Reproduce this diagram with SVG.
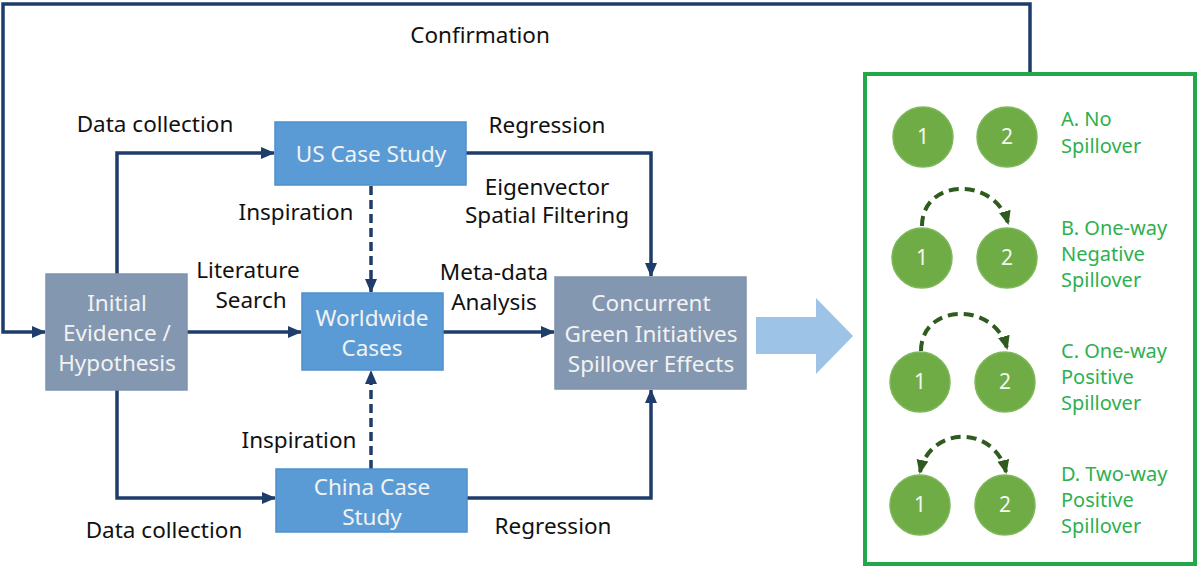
<svg xmlns="http://www.w3.org/2000/svg" width="1200" height="568" viewBox="0 0 1200 568">
<style>
text{font-family:"Noto Sans","Open Sans","DejaVu Sans",sans-serif;}
.lbl{font-size:22.5px;fill:#111;}
.nt{font-size:22.5px;fill:#F2F2F2;text-anchor:middle;}
.grey{fill:#8497B0;stroke:#7F93AE;stroke-width:1.5;}
.blue{fill:#5B9BD5;stroke:#4F8FCC;stroke-width:1.5;}
.con{fill:none;stroke:#1F3D6B;stroke-width:3.5;}
.dash{stroke-dasharray:9 5;}
.circ{fill:#6FAC46;stroke:#7DB85A;stroke-width:1.5;}
.cn{font-size:21px;fill:#F4F9F0;text-anchor:middle;}
.gl{font-size:20px;fill:#2EB050;}
.arc{fill:none;stroke:#2F5B1E;stroke-width:4;stroke-dasharray:10 6;}
</style>
<defs>
<marker id="ah" markerUnits="userSpaceOnUse" markerWidth="14" markerHeight="14" viewBox="0 0 14 14" refX="13" refY="7" orient="auto">
<path d="M0,1 L14,7 L0,13 z" fill="#1F3D6B"/>
</marker>
<marker id="gh" markerUnits="userSpaceOnUse" markerWidth="14" markerHeight="14" viewBox="0 0 14 14" refX="12" refY="7" orient="auto-start-reverse">
<path d="M0,1 L14,7 L0,13 z" fill="#2F5B1E"/>
</marker>
</defs>

<g id="connectors">
<polyline class="con" points="1030,73 1030,4 3,4 3,332 45,332" marker-end="url(#ah)"/>
<polyline class="con" points="117,274 117,153 274,153" marker-end="url(#ah)"/>
<polyline class="con" points="117,390 117,498 275,498" marker-end="url(#ah)"/>
<line class="con" x1="187" y1="332" x2="301" y2="332" marker-end="url(#ah)"/>
<line class="con" x1="443" y1="332" x2="554" y2="332" marker-end="url(#ah)"/>
<line class="con dash" x1="371" y1="186" x2="371" y2="292" marker-end="url(#ah)"/>
<line class="con dash" x1="371" y1="469" x2="371" y2="371" marker-end="url(#ah)"/>
<polyline class="con" points="466,153 651,153 651,276" marker-end="url(#ah)"/>
<polyline class="con" points="467,498 651,498 651,390" marker-end="url(#ah)"/>
<text class="lbl" x="480" y="43" text-anchor="middle">Confirmation</text>
<text class="lbl" x="155" y="132" text-anchor="middle">Data collection</text>
<text class="lbl" x="547" y="133" text-anchor="middle">Regression</text>
<text class="lbl" x="547" y="195" text-anchor="middle">Eigenvector</text>
<text class="lbl" x="547" y="223" text-anchor="middle">Spatial Filtering</text>
<text class="lbl" x="296" y="220" text-anchor="middle">Inspiration</text>
<text class="lbl" x="248" y="278" text-anchor="middle">Literature</text>
<text class="lbl" x="251" y="308" text-anchor="middle">Search</text>
<text class="lbl" x="494" y="280" text-anchor="middle">Meta-data</text>
<text class="lbl" x="494" y="310" text-anchor="middle">Analysis</text>
<text class="lbl" x="299" y="448" text-anchor="middle">Inspiration</text>
<text class="lbl" x="164" y="538" text-anchor="middle">Data collection</text>
<text class="lbl" x="553" y="534" text-anchor="middle">Regression</text>
</g>

<g id="initial">
<rect class="grey" x="46" y="274" width="141" height="116"/>
<text class="nt" x="117" y="311">Initial</text>
<text class="nt" x="117" y="341">Evidence /</text>
<text class="nt" x="117" y="371">Hypothesis</text>
</g>
<g id="us">
<rect class="blue" x="275" y="122" width="191" height="63"/>
<text class="nt" x="371" y="162">US Case Study</text>
</g>
<g id="worldwide">
<rect class="blue" x="302" y="293" width="141" height="77"/>
<text class="nt" x="372" y="326">Worldwide</text>
<text class="nt" x="372" y="356">Cases</text>
</g>
<g id="china">
<rect class="blue" x="276" y="469" width="191" height="63"/>
<text class="nt" x="372" y="495">China Case</text>
<text class="nt" x="372" y="525">Study</text>
</g>
<g id="concurrent">
<rect class="grey" x="555" y="277" width="191" height="112"/>
<text class="nt" x="651" y="311">Concurrent</text>
<text class="nt" x="651" y="342">Green Initiatives</text>
<text class="nt" x="651" y="372">Spillover Effects</text>
</g>
<g id="big-arrow">
<polygon points="756,317 816,317 816,298 853,336 816,374 816,354 756,354" fill="#9DC3E6"/>
</g>

<g id="panel">
<rect x="865" y="74" width="330" height="490" fill="#fff" stroke="#22A84A" stroke-width="4"/>
<g id="row-a">
<circle class="circ" cx="923" cy="137" r="30"/>
<circle class="circ" cx="1007" cy="137" r="30"/>
<text class="cn" x="923" y="144">1</text>
<text class="cn" x="1007" y="144">2</text>
<text class="gl" x="1061" y="126">A. No</text>
<text class="gl" x="1061" y="153">Spillover</text>
</g>
<g id="row-b">
<circle class="circ" cx="922" cy="258" r="30"/>
<circle class="circ" cx="1007" cy="258" r="30"/>
<text class="cn" x="922" y="265">1</text>
<text class="cn" x="1007" y="265">2</text>
<path class="arc" d="M922,226 C922,178 995,176 1008,223" marker-end="url(#gh)"/>
<text class="gl" x="1061" y="235">B. One-way</text>
<text class="gl" x="1061" y="261">Negative</text>
<text class="gl" x="1061" y="287">Spillover</text>
</g>
<g id="row-c">
<circle class="circ" cx="920" cy="382" r="30"/>
<circle class="circ" cx="1005" cy="382" r="30"/>
<text class="cn" x="920" y="389">1</text>
<text class="cn" x="1005" y="389">2</text>
<path class="arc" d="M921,351 C921,303 994,301 1007,348" marker-end="url(#gh)"/>
<text class="gl" x="1061" y="358">C. One-way</text>
<text class="gl" x="1061" y="384">Positive</text>
<text class="gl" x="1061" y="410">Spillover</text>
</g>
<g id="row-d">
<circle class="circ" cx="920" cy="505" r="30"/>
<circle class="circ" cx="1005" cy="505" r="30"/>
<text class="cn" x="920" y="512">1</text>
<text class="cn" x="1005" y="512">2</text>
<path class="arc" d="M920,472 C930,425 995,425 1006,472" marker-start="url(#gh)" marker-end="url(#gh)"/>
<text class="gl" x="1061" y="481">D. Two-way</text>
<text class="gl" x="1061" y="507">Positive</text>
<text class="gl" x="1061" y="533">Spillover</text>
</g>
</g>
</svg>
